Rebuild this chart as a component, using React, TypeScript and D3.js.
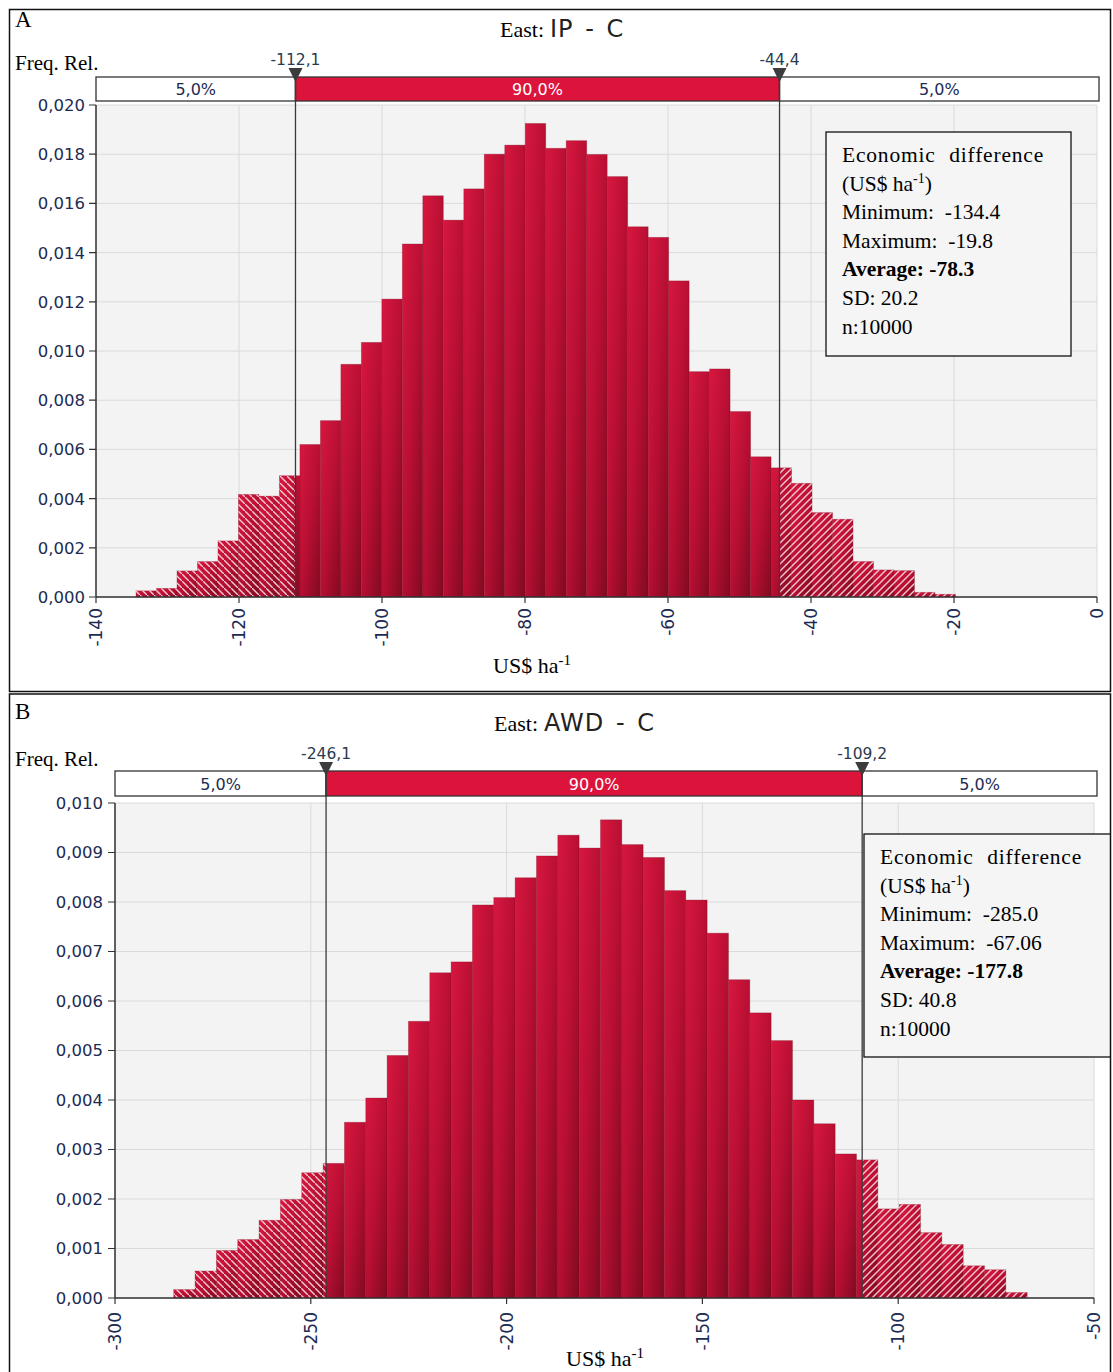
import React from 'react';
import * as d3 from 'd3';

// ---------- DATA ----------
// Panel A: East IP - C (relative frequency per bin, 40 bins from min to max)
const ipHeights = [
  0.00025, 0.00035, 0.00106, 0.00144, 0.00228, 0.00417, 0.0041, 0.00493, 0.0062, 0.00717,
  0.00946, 0.01035, 0.01211, 0.01435, 0.01631, 0.01532, 0.01659, 0.018, 0.01837, 0.01925,
  0.01824, 0.01855, 0.01799, 0.01709, 0.01505, 0.01462, 0.01285, 0.00916, 0.00927, 0.00754,
  0.0057, 0.00525, 0.00462, 0.00343, 0.00316, 0.00144, 0.0011, 0.00107, 0.00019, 0.00011,
];
const ipRange = [-134.4, -19.8];
const ipDelims = [-112.1, -44.4];
const ipDelimLabels = ['-112,1', '-44,4'];
const ipBandLabels = ['5,0%', '90,0%', '5,0%'];
const ipXTicks = [-140, -120, -100, -80, -60, -40, -20, 0];
const ipYTicks = [0, 0.002, 0.004, 0.006, 0.008, 0.01, 0.012, 0.014, 0.016, 0.018, 0.02];
const ipStats = ['Minimum:  -134.4', 'Maximum:  -19.8', 'Average: -78.3', 'SD: 20.2', 'n:10000'];

// Panel B: East AWD - C
const awdHeights = [
  0.00017, 0.000545, 0.00096, 0.00118, 0.00157, 0.00199, 0.00253, 0.00272, 0.00355, 0.00404,
  0.0049, 0.00559, 0.00657, 0.00679, 0.00794, 0.00809, 0.00849, 0.00893, 0.00935, 0.00909,
  0.00966, 0.00916, 0.0089, 0.00823, 0.00804, 0.00737, 0.00643, 0.00576, 0.0052, 0.004,
  0.00352, 0.00291, 0.00279, 0.0018, 0.00189, 0.00132, 0.00108, 0.00065, 0.00057, 0.00011,
];
const awdRange = [-285.0, -67.06];
const awdDelims = [-246.1, -109.2];
const awdDelimLabels = ['-246,1', '-109,2'];
const awdBandLabels = ['5,0%', '90,0%', '5,0%'];
const awdXTicks = [-300, -250, -200, -150, -100, -50];
const awdYTicks = [0, 0.001, 0.002, 0.003, 0.004, 0.005, 0.006, 0.007, 0.008, 0.009, 0.01];
const awdStats = ['Minimum:  -285.0', 'Maximum:  -67.06', 'Average: -177.8', 'SD: 40.8', 'n:10000'];

// ---------- STYLE ----------
const SERIF = '"Liberation Serif", "Times New Roman", serif';
const SANS = '"DejaVu Sans", Verdana, sans-serif';
const TICK_COLOR = '#1d2b53';
const CRIMSON = '#dc143c';

type PanelCfg = {
  id: string;
  letter: string;
  title: string;
  box: { x: number; y: number; w: number; h: number };
  plot: { x0: number; x1: number; yTop: number; yBottom: number };
  band: { x0: number; x1: number; y0: number; y1: number };
  xDomain: [number, number];
  yDomain: [number, number];
  xTicks: number[];
  yTicks: number[];
  heights: number[];
  range: number[];
  delims: number[];
  delimLabels: string[];
  bandLabels: string[];
  stats: string[];
  statsBox: { x: number; y: number; w: number; h: number };
  titleX: number;
  titleY: number;
  letterY: number;
  freqY: number;
  xTitle: { x: number; y: number };
  yLabelRight: number;
  xLabelOffset: number;
};

const fmtY = (v: number) => d3.format('.3f')(v).replace('.', ',');

function Panel({ c }: { c: PanelCfg }) {
  const x = d3.scaleLinear().domain(c.xDomain).range([c.plot.x0, c.plot.x1]);
  const y = d3.scaleLinear().domain(c.yDomain).range([c.plot.yBottom, c.plot.yTop]);
  const n = c.heights.length;
  const w = (c.range[1] - c.range[0]) / n;
  const bins = c.heights.map((h, i) => ({ a: c.range[0] + i * w, b: c.range[0] + (i + 1) * w, h }));
  const lo = x(c.delims[0]);
  const hi = x(c.delims[1]);
  const pw = c.plot.x1 - c.plot.x0;
  const ph = c.plot.yBottom - c.plot.yTop;
  const statsLineH = 28.6;
  const sx = c.statsBox.x + 16;
  const sy0 = c.statsBox.y + 30;

  return (
    <g>
      <defs>
        <linearGradient id={`grad-${c.id}`} x1="0" y1="0" x2="1" y2="1">
          <stop offset="0" stopColor="#d8173f" />
          <stop offset="0.5" stopColor="#b80f33" />
          <stop offset="1" stopColor="#800a21" />
        </linearGradient>
        <pattern id={`hatchL-${c.id}`} patternUnits="userSpaceOnUse" width="7" height="7">
          <path d="M-1,-1 L8,8 M-4.5,2.5 L-0.5,6.5 M2.5,-4.5 L6.5,-0.5" stroke="#f6c9d1" strokeWidth="1.4" />
        </pattern>
        <pattern id={`hatchR-${c.id}`} patternUnits="userSpaceOnUse" width="7" height="7">
          <path d="M-1,8 L8,-1 M-1,1 L1,-1 M6,8 L8,6" stroke="#f6c9d1" strokeWidth="1.4" />
        </pattern>
        <clipPath id={`clip-${c.id}`}>
          <rect x={c.box.x} y={c.box.y} width={c.box.w} height={c.box.h} />
        </clipPath>
      </defs>

      <g clipPath={`url(#clip-${c.id})`}>
        {/* plot background */}
        <rect x={c.plot.x0} y={c.plot.yTop} width={pw} height={ph} fill="#f3f3f3" />
        {/* grid */}
        {c.yTicks.map((t) => (
          <line key={`gy${t}`} x1={c.plot.x0} x2={c.plot.x1} y1={y(t)} y2={y(t)} stroke="#dadada" strokeWidth={1} />
        ))}
        {c.xTicks.map((t) => (
          <line key={`gx${t}`} x1={x(t)} x2={x(t)} y1={c.plot.yTop} y2={c.plot.yBottom} stroke="#dadada" strokeWidth={1} />
        ))}

        {/* bars */}
        {bins.map((d, i) => (
          <rect
            key={`b${i}`}
            x={x(d.a)}
            y={y(d.h)}
            width={x(d.b) - x(d.a)}
            height={y(0) - y(d.h)}
            fill={`url(#grad-${c.id})`}
            stroke="#7a0820"
            strokeOpacity={0.35}
            strokeWidth={0.8}
          />
        ))}
        {/* hatch overlays outside delimiters */}
        {bins.map((d, i) => {
          const x0 = x(d.a);
          const x1 = x(d.b);
          const out: JSX.Element[] = [];
          if (x0 < lo) {
            out.push(
              <rect key={`hl${i}`} x={x0} y={y(d.h)} width={Math.min(x1, lo) - x0} height={y(0) - y(d.h)} fill={`url(#hatchL-${c.id})`} />
            );
          }
          if (x1 > hi) {
            const s = Math.max(x0, hi);
            out.push(
              <rect key={`hr${i}`} x={s} y={y(d.h)} width={x1 - s} height={y(0) - y(d.h)} fill={`url(#hatchR-${c.id})`} />
            );
          }
          return out;
        })}

        {/* axes */}
        <line x1={c.plot.x0} x2={c.plot.x1} y1={c.plot.yBottom} y2={c.plot.yBottom} stroke="#333" strokeWidth={1.5} />
        <line x1={c.plot.x0} x2={c.plot.x0} y1={c.plot.yTop} y2={c.plot.yBottom} stroke="#333" strokeWidth={1.5} />
        {c.yTicks.map((t) => (
          <g key={`ty${t}`}>
            <line x1={c.plot.x0 - 7} x2={c.plot.x0} y1={y(t)} y2={y(t)} stroke="#333" strokeWidth={1.2} />
            <text x={c.yLabelRight} y={y(t)} dy="0.36em" textAnchor="end" fontFamily={SANS} fontSize={16.5} fill={TICK_COLOR}>
              {fmtY(t)}
            </text>
          </g>
        ))}
        {c.xTicks.map((t) => (
          <g key={`tx${t}`}>
            <line x1={x(t)} x2={x(t)} y1={c.plot.yBottom} y2={c.plot.yBottom + 6} stroke="#333" strokeWidth={1.2} />
            <text
              transform={`translate(${x(t)},${c.plot.yBottom + c.xLabelOffset}) rotate(-90)`}
              dy="0.36em"
              textAnchor="end"
              fontFamily={SANS}
              fontSize={17}
              fill={TICK_COLOR}
            >
              {t}
            </text>
          </g>
        ))}

        {/* delimiter band */}
        <rect x={c.band.x0} y={c.band.y0} width={lo - c.band.x0} height={c.band.y1 - c.band.y0} fill="#fff" stroke="#333" strokeWidth={1.3} />
        <rect x={lo} y={c.band.y0} width={hi - lo} height={c.band.y1 - c.band.y0} fill={CRIMSON} stroke="#333" strokeWidth={1.3} />
        <rect x={hi} y={c.band.y0} width={c.band.x1 - hi} height={c.band.y1 - c.band.y0} fill="#fff" stroke="#333" strokeWidth={1.3} />
        {[
          { cx: (c.band.x0 + lo) / 2, col: TICK_COLOR, t: c.bandLabels[0] },
          { cx: (lo + hi) / 2, col: '#ffffff', t: c.bandLabels[1] },
          { cx: (hi + c.band.x1) / 2, col: TICK_COLOR, t: c.bandLabels[2] },
        ].map((d, i) => (
          <text key={`bl${i}`} x={d.cx} y={(c.band.y0 + c.band.y1) / 2} dy="0.38em" textAnchor="middle" fontFamily={SANS} fontSize={16} fill={d.col}>
            {d.t}
          </text>
        ))}
        {/* delimiter lines, markers, labels */}
        {c.delims.map((v, i) => (
          <g key={`dl${i}`}>
            <line x1={x(v)} x2={x(v)} y1={c.band.y0} y2={c.plot.yBottom} stroke="#3a3a3a" strokeWidth={1.3} />
            <path
              d={`M${x(v) - 7},${c.band.y0 - 9} L${x(v) + 7},${c.band.y0 - 9} L${x(v)},${c.band.y0 + 5} Z`}
              fill="#3c3c3c"
            />
            <text x={x(v)} y={c.band.y0 - 12} textAnchor="middle" fontFamily={SANS} fontSize={15.5} fill="#2a3a50">
              {c.delimLabels[i]}
            </text>
          </g>
        ))}

        {/* stats box */}
        <rect x={c.statsBox.x} y={c.statsBox.y} width={c.statsBox.w} height={c.statsBox.h} fill="#f5f5f5" stroke="#111" strokeWidth={1.3} />
        <g fontFamily={SERIF} fontSize={21.5} fill="#000">
          <text x={sx} y={sy0} letterSpacing={0.8}>Economic</text>
          <text x={sx + 202} y={sy0} textAnchor="end" letterSpacing={0.8}>difference</text>
          <text x={sx} y={sy0 + statsLineH}>
            (US$ ha<tspan dy={-8} fontSize={14}>-1</tspan>
            <tspan dy={8}>)</tspan>
          </text>
          {c.stats.map((s, i) => (
            <text key={`st${i}`} x={sx} y={sy0 + statsLineH * (i + 2)} fontWeight={i === 2 ? 'bold' : 'normal'} xmlSpace="preserve">
              {s}
            </text>
          ))}
        </g>

        {/* titles */}
        <text x={15} y={c.letterY} fontFamily={SERIF} fontSize={23} fill="#000">{c.letter}</text>
        <text x={15} y={c.freqY} fontFamily={SERIF} fontSize={21} fill="#000">Freq. Rel.</text>
        <text x={c.titleX} y={c.titleY} fontFamily={SERIF} fontSize={22} fill="#000">East:</text>
        <text x={c.titleX + 50} y={c.titleY} fontFamily={SANS} fontSize={24} fill="#222" letterSpacing={1} wordSpacing={3}>
          {c.title}
        </text>
        <text x={c.xTitle.x} y={c.xTitle.y} textAnchor="middle" fontFamily={SERIF} fontSize={22} fill="#000">
          US$ ha<tspan dy={-8} fontSize={15}>-1</tspan>
        </text>
      </g>

      {/* panel border */}
      <rect x={c.box.x} y={c.box.y} width={c.box.w} height={c.box.h} fill="none" stroke="#111" strokeWidth={1.5} />
    </g>
  );
}

const panelA: PanelCfg = {
  id: 'a',
  letter: 'A',
  title: 'IP - C',
  box: { x: 9.5, y: 9.5, w: 1101, h: 682 },
  plot: { x0: 96, x1: 1097, yTop: 105, yBottom: 597 },
  band: { x0: 96, x1: 1099, y0: 77, y1: 101 },
  xDomain: [-140, 0],
  yDomain: [0, 0.02],
  xTicks: ipXTicks,
  yTicks: ipYTicks,
  heights: ipHeights,
  range: ipRange,
  delims: ipDelims,
  delimLabels: ipDelimLabels,
  bandLabels: ipBandLabels,
  stats: ipStats,
  statsBox: { x: 826, y: 132, w: 245, h: 224 },
  titleX: 500,
  titleY: 37,
  letterY: 27,
  freqY: 70,
  xTitle: { x: 532, y: 673 },
  yLabelRight: 85,
  xLabelOffset: 11,
};

const panelB: PanelCfg = {
  id: 'b',
  letter: 'B',
  title: 'AWD - C',
  box: { x: 9.5, y: 694, w: 1101, h: 700 },
  plot: { x0: 115, x1: 1094, yTop: 803, yBottom: 1298 },
  band: { x0: 115, x1: 1097, y0: 771, y1: 796 },
  xDomain: [-300, -50],
  yDomain: [0, 0.01],
  xTicks: awdXTicks,
  yTicks: awdYTicks,
  heights: awdHeights,
  range: awdRange,
  delims: awdDelims,
  delimLabels: awdDelimLabels,
  bandLabels: awdBandLabels,
  stats: awdStats,
  statsBox: { x: 864, y: 834, w: 270, h: 223 },
  titleX: 494,
  titleY: 731,
  letterY: 719,
  freqY: 766,
  xTitle: { x: 605, y: 1366 },
  yLabelRight: 103,
  xLabelOffset: 14,
};

export default function App() {
  return (
    <svg
      width={1113}
      height={1372}
      viewBox="0 0 1113 1372"
      style={{ position: 'absolute', left: 0, top: 0, background: '#fff' }}
    >
      <rect x={0} y={0} width={1113} height={1372} fill="#fff" />
      <Panel c={panelA} />
      <Panel c={panelB} />
    </svg>
  );
}
